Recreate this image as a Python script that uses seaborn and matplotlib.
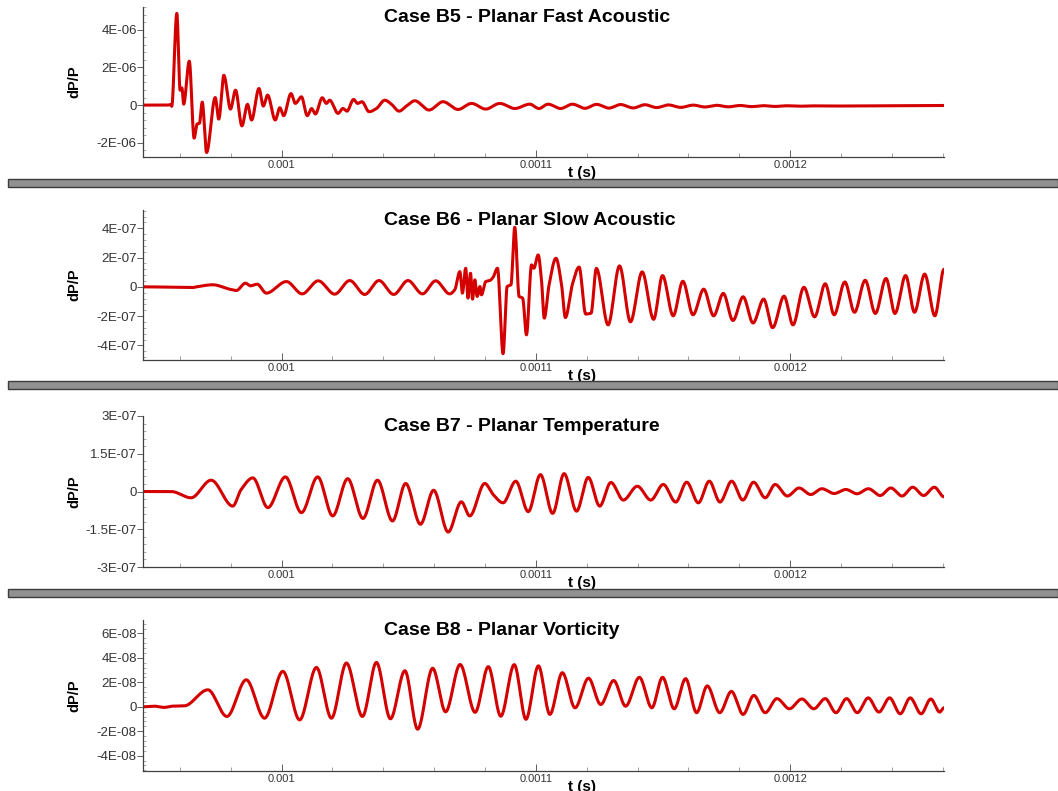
import numpy as np
import pandas as pd
import matplotlib
matplotlib.use("Agg")
import matplotlib.pyplot as plt
import seaborn as sns
from matplotlib.ticker import MultipleLocator, FuncFormatter, AutoMinorLocator
from matplotlib.patches import Rectangle

# ---------------------------------------------------------------------------
# Pressure-probe histories: time in microseconds, dP/P in the scale noted
# ---------------------------------------------------------------------------

# Case B5 - Planar Fast Acoustic (dP/P in 1e-6)
b5_t_us = [945.3, 955.1, 956.3, 956.8, 958.8, 960.1, 960.8, 961.5, 963.7, 965.6,
           966.8, 967.7, 968.8, 970.5, 973.9, 975.3, 977.3, 979.9, 981.9, 984.4,
           986.6, 988.2, 991.1, 992.8, 994.5, 997.5, 999.3, 1000.8, 1003.7, 1005.4,
           1007.8, 1010.1, 1011.8, 1013.3, 1016.0, 1017.6, 1018.9, 1022.2, 1024.1, 1025.7,
           1028.3, 1029.9, 1031.6, 1034.4, 1037.3, 1040.6, 1043.2, 1046.2, 1049.1, 1052.4,
           1058.0, 1063.5, 1069.4, 1074.7, 1080.3, 1085.8, 1091.7, 1097.6, 1101.2, 1104.8,
           1109.7, 1114.4, 1119.3, 1123.9, 1128.7, 1133.3, 1138.3, 1142.9, 1147.5, 1152.1,
           1157.0, 1161.9, 1166.5, 1171.1, 1175.7, 1180.3, 1184.9, 1189.5, 1194.1, 1198.7,
           1203.3, 1207.9, 1215.0, 1230.0, 1245.0, 1260.5]
b5_dp = [0, 0, 0.03, -0.06, 4.86, 0.79, 0.91, 0.05, 2.33, -1.75,
         -1.0, -0.96, 0.16, -2.51, 0.4, -0.74, 1.58, -0.21, 0.79, -1.1,
         0.04, -0.79, 0.88, -0.05, 0.53, -0.79, -0.14, -0.56, 0.61, 0.09,
         0.44, -0.56, -0.18, -0.47, 0.39, 0.09, 0.26, -0.44, -0.18, -0.32,
         0.3, 0.09, 0.18, -0.35, -0.18, 0.26, 0.05, -0.32, -0.05, 0.23,
         -0.26, 0.18, -0.23, 0.09, -0.21, 0.09, -0.18, 0.05, -0.18, 0.05,
         -0.18, 0.05, -0.17, 0.04, -0.16, 0.03, -0.15, 0.02, -0.13, 0.01,
         -0.12, 0.0, -0.10, -0.01, -0.09, -0.02, -0.08, -0.03, -0.07, -0.035,
         -0.06, -0.04, -0.05, -0.04, -0.03, -0.02]

# Case B6 - Planar Slow Acoustic (dP/P in 1e-7)
b6_t_us = [945.3, 965.1, 966.5, 973.0, 979.5, 982.2, 985.8, 987.7, 990.4, 994.0,
           1001.9, 1008.1, 1014.4, 1020.9, 1026.8, 1032.7, 1038.3, 1044.1, 1049.7, 1055.4,
           1060.6, 1066.1, 1068.1, 1070.1, 1071.1, 1072.4, 1073.3, 1074.3, 1075.1, 1076.0,
           1076.9, 1078.0, 1078.6, 1080.3, 1081.9, 1083.2, 1084.9, 1087.1, 1088.7, 1090.2,
           1091.7, 1093.4, 1094.8, 1096.3, 1098.3, 1099.2, 1100.9, 1102.2, 1103.3, 1105.2,
           1107.9, 1110.1, 1111.6, 1114.4, 1117.0, 1119.6, 1121.7, 1123.8, 1128.4, 1132.9,
           1137.2, 1141.8, 1146.3, 1149.8, 1154.0, 1157.8, 1161.8, 1166.0, 1169.9, 1173.7,
           1177.5, 1181.5, 1185.4, 1189.6, 1193.1, 1197.6, 1201.1, 1205.4, 1209.6, 1213.8,
           1217.3, 1221.5, 1225.3, 1229.5, 1233.5, 1237.7, 1241.2, 1245.4, 1248.9, 1252.9,
           1256.9, 1260.5]
b6_dp = [0, -0.05, 0, 0.14, -0.16, -0.25, 0.25, 0.07, 0.18, -0.43,
         0.36, -0.48, 0.41, -0.5, 0.43, -0.52, 0.43, -0.52, 0.43, -0.48,
         0.41, -0.48, -0.2, 1.04, -0.43, 1.27, -0.77, 0.93, -0.84, 0.48,
         -0.66, 0.02, -0.55, 0.36, 0.43, 0.66, 1.27, -4.57, 0.02, 0.14,
         4.07, -0.66, -0.77, -3.28, 1.5, 1.27, 2.18, 0.48, -2.14, 0.14,
         1.95, 0.14, -2.1, 0.2, 1.35, -1.86, -1.8, 1.26, -2.6, 1.43,
         -2.39, 1.02, -2.22, 0.77, -1.98, 0.38, -1.91, -0.16, -1.98, -0.45,
         -2.3, -0.68, -2.47, -0.84, -2.79, -0.64, -2.6, -0.03, -2.05, 0.21,
         -1.91, 0.33, -1.74, 0.45, -1.82, 0.57, -1.82, 0.77, -1.74, 0.87,
         -1.98, 1.2]

# Case B7 - Planar Temperature (dP/P in 1e-7)
b7_t_us = [945.3, 956.6, 964.4, 972.3, 980.8, 984.1, 988.7, 994.6, 1001.5, 1007.8,
           1014.2, 1020.1, 1026.0, 1032.0, 1037.7, 1043.6, 1048.8, 1054.6, 1059.8, 1065.5,
           1070.7, 1074.0, 1079.9, 1083.2, 1087.1, 1092.1, 1097.0, 1101.8, 1106.6, 1111.1,
           1116.0, 1120.6, 1125.1, 1129.5, 1134.4, 1139.9, 1145.2, 1150.1, 1155.0, 1159.3,
           1163.9, 1168.2, 1172.4, 1177.0, 1181.4, 1185.6, 1190.2, 1194.1, 1198.9, 1203.5,
           1208.1, 1212.5, 1217.3, 1221.9, 1226.3, 1230.8, 1235.4, 1239.6, 1244.0, 1248.2,
           1252.5, 1256.7, 1260.5]
b7_dp = [0, 0, -0.25, 0.45, -0.58, 0.08, 0.54, -0.64, 0.58, -0.84,
         0.58, -0.97, 0.51, -1.07, 0.45, -1.17, 0.32, -1.3, 0.05, -1.61,
         -0.41, -0.97, 0.32, -0.12, -0.45, 0.41, -0.8, 0.67, -0.87, 0.71,
         -0.78, 0.56, -0.58, 0.36, -0.34, 0.21, -0.34, 0.28, -0.42, 0.37,
         -0.45, 0.41, -0.42, 0.41, -0.34, 0.37, -0.25, 0.28, -0.18, 0.14,
         -0.12, 0.11, -0.08, 0.08, -0.09, 0.11, -0.16, 0.14, -0.18, 0.17,
         -0.16, 0.17, -0.21]

# Case B8 - Planar Vorticity (dP/P in 1e-8)
b8_t_us = [945.3, 950.0, 953.9, 956.7, 961.8, 971.0, 978.5, 986.1, 993.3, 1000.5,
           1007.1, 1013.7, 1019.6, 1025.5, 1031.8, 1037.3, 1042.8, 1048.5, 1053.5, 1059.4,
           1064.5, 1070.2, 1076.1, 1081.3, 1086.2, 1091.5, 1096.1, 1101.0, 1105.5, 1110.4,
           1115.4, 1120.7, 1125.5, 1130.6, 1135.3, 1140.7, 1145.6, 1149.8, 1154.4, 1158.9,
           1163.2, 1167.4, 1172.3, 1176.9, 1181.5, 1185.7, 1190.2, 1194.8, 1199.7, 1204.6,
           1209.3, 1213.8, 1218.0, 1222.2, 1226.4, 1230.7, 1234.9, 1239.1, 1243.3, 1247.2,
           1251.5, 1255.3, 1258.8, 1260.5]
b8_dp = [0, 0.05, -0.05, 0.05, 0.08, 1.39, -0.79, 2.21, -0.93, 2.9,
         -1.07, 3.22, -0.93, 3.58, -0.79, 3.63, -0.98, 2.95, -1.83, 3.15,
         -0.41, 3.46, -0.45, 3.28, -0.77, 3.45, -1.02, 3.35, -0.62, 2.79,
         -0.08, 2.34, 0.19, 2.15, 0.05, 2.41, -0.08, 2.41, -0.16, 2.3,
         -0.48, 1.71, -0.48, 1.26, -0.62, 0.93, -0.48, 0.67, -0.16, 0.64,
         -0.16, 0.67, -0.48, 0.67, -0.48, 0.73, -0.43, 0.73, -0.57, 0.73,
         -0.57, 0.64, -0.43, -0.08]

titles = ["Case B5 - Planar Fast Acoustic",
          "Case B6 - Planar Slow Acoustic",
          "Case B7 - Planar Temperature",
          "Case B8 - Planar Vorticity"]
series = [(b5_t_us, b5_dp, 1e-6), (b6_t_us, b6_dp, 1e-7),
          (b7_t_us, b7_dp, 1e-7), (b8_t_us, b8_dp, 1e-8)]
y_limits = [(-2.75e-6, 5.2e-6), (-5.0e-7, 5.25e-7), (-3e-7, 3e-7), (-5.25e-8, 7.1e-8)]
y_steps = [2e-6, 2e-7, 1.5e-7, 2e-8]
x_limits = (945.5e-6, 1260.5e-6)

LINE_RED = "#d40000"


def smooth_curve(x, y, n=4000):
    """Monotone cubic (Fritsch-Carlson) curve through the sampled points."""
    x = np.asarray(x, float)
    y = np.asarray(y, float)
    h = np.diff(x)
    d = np.diff(y) / h
    m = np.zeros_like(y)
    for k in range(1, len(x) - 1):
        if d[k - 1] * d[k] > 0:
            w1 = 2 * h[k] + h[k - 1]
            w2 = h[k] + 2 * h[k - 1]
            m[k] = (w1 + w2) / (w1 / d[k - 1] + w2 / d[k])
    xs = np.linspace(x[0], x[-1], n)
    i = np.clip(np.searchsorted(x, xs, side="right") - 1, 0, len(x) - 2)
    s = (xs - x[i]) / h[i]
    h00 = 2 * s**3 - 3 * s**2 + 1
    h10 = s**3 - 2 * s**2 + s
    h01 = -2 * s**3 + 3 * s**2
    h11 = s**3 - s**2
    ys = h00 * y[i] + h10 * h[i] * m[i] + h01 * y[i + 1] + h11 * h[i] * m[i + 1]
    return xs, ys


def sci_label(v, _pos):
    if abs(v) < 1e-15:
        return "0"
    s = f"{v:.1E}"
    mant, exp = s.split("E")
    mant = mant.replace(".0", "")
    return f"{mant}E{exp}"


def time_label(v, _pos):
    return f"{round(v, 7):g}"


sns.set_style("ticks")
plt.rcParams["font.family"] = ["Liberation Sans", "DejaVu Sans"]

fig = plt.figure(figsize=(10.58, 7.91), dpi=100)
W, H = 1058.0, 791.0
left_px, right_px = 143, 944
panel_px = [(7, 157), (210, 360), (416, 567), (620, 771)]

for k, ((t_us, dp, scale), title) in enumerate(zip(series, titles)):
    top, bot = panel_px[k]
    ax = fig.add_axes([left_px / W, 1 - bot / H, (right_px - left_px) / W, (bot - top) / H])

    xs, ys = smooth_curve(t_us, dp)
    df = pd.DataFrame({"t (s)": xs * 1e-6, "dP/P": ys * scale})
    sns.lineplot(data=df, x="t (s)", y="dP/P", ax=ax, color=LINE_RED,
                 linewidth=2.2, estimator=None, sort=False)

    ax.set_xlim(*x_limits)
    ax.set_ylim(*y_limits[k])
    ax.xaxis.set_major_locator(MultipleLocator(1e-4))
    ax.xaxis.set_minor_locator(AutoMinorLocator(5))
    ax.xaxis.set_major_formatter(FuncFormatter(time_label))
    ax.yaxis.set_major_locator(MultipleLocator(y_steps[k]))
    ax.yaxis.set_minor_locator(AutoMinorLocator(5))
    ax.yaxis.set_major_formatter(FuncFormatter(sci_label))

    for side in ("top", "right"):
        ax.spines[side].set_visible(False)
    for side in ("left", "bottom"):
        ax.spines[side].set_color("#404040")
        ax.spines[side].set_linewidth(0.9)

    ax.tick_params(axis="both", which="both", bottom=True, left=True,
                   top=False, right=False)
    ax.tick_params(axis="x", which="major", direction="in", length=5, width=0.7,
                   color="#606060", labelsize=8, labelcolor="#333333", pad=2)
    ax.tick_params(axis="x", which="minor", direction="in", length=3, width=0.6,
                   color="#909090")
    ax.tick_params(axis="y", which="major", direction="out", length=4, width=0.7,
                   color="#606060", labelsize=9.5, labelcolor="#333333", pad=0.5)
    ax.tick_params(axis="y", which="minor", direction="in", length=2.5, width=0.6,
                   color="#a0a0a0")

    ax.set_xlabel("t (s)", fontsize=11, fontweight="bold", color="black")
    ax.xaxis.set_label_coords((582 - left_px) / (right_px - left_px),
                              -(15.5) / (bot - top), transform=ax.transAxes)
    ax.xaxis.label.set_va("center")
    ax.set_ylabel("dP/P", fontsize=10.5, fontweight="bold", color="black")
    ax.yaxis.set_label_coords((74 - left_px) / (right_px - left_px), 0.5,
                              transform=ax.transAxes)
    ax.yaxis.label.set_va("center")

    ax.text((384 - left_px) / (right_px - left_px), 1 - 10.5 / (bot - top), title,
            transform=ax.transAxes, ha="left", va="center",
            fontsize=14, fontweight="bold", color="black")
    ax.patch.set_alpha(0)

# Grey divider bars between the panels
for y0 in (179, 381, 589):
    fig.patches.append(Rectangle((8 / W, 1 - (y0 + 8) / H), 1 - 8 / W, 8 / H,
                                 transform=fig.transFigure, facecolor="#919191",
                                 edgecolor="#3c3c3c", linewidth=1.0, zorder=0))

fig.savefig("out.png", dpi=100)
